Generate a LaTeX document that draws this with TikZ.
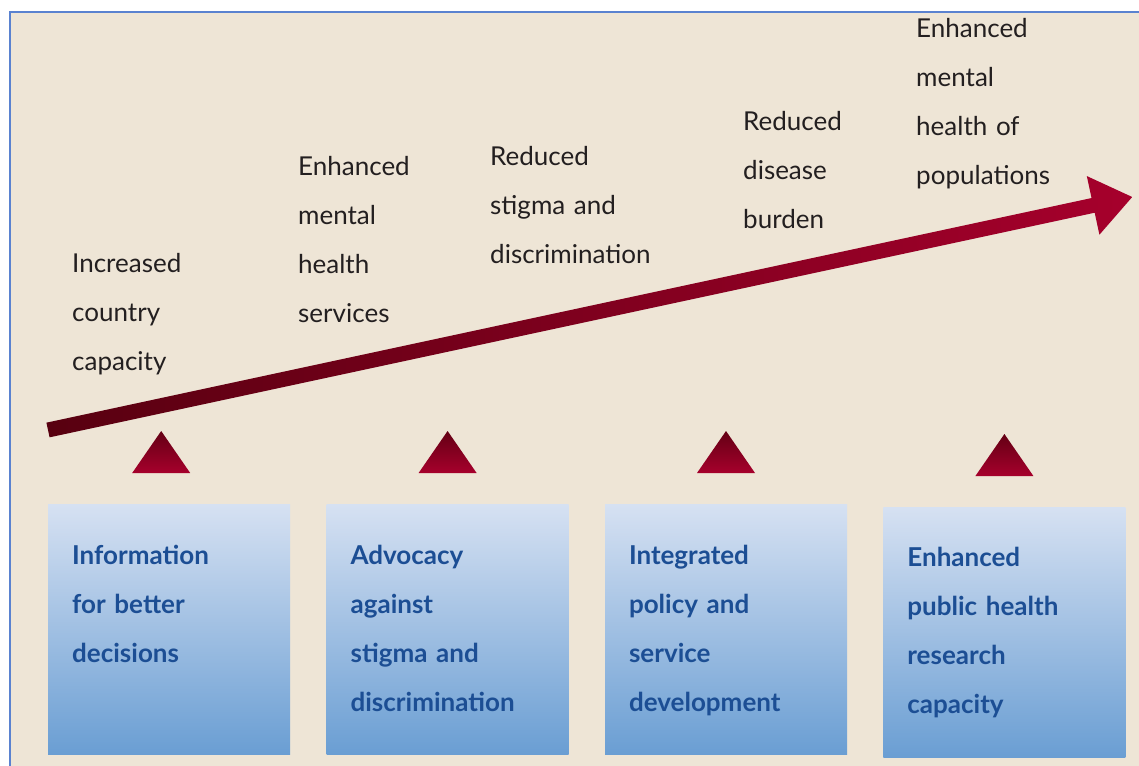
\documentclass[tikz,border=0pt]{standalone}
\usepackage{fontspec}
\setmainfont{Lato}
\usetikzlibrary{positioning,calc}

\definecolor{paper}{HTML}{EEE5D6}
\definecolor{frameblue}{HTML}{5A82D0}
\definecolor{wine}{HTML}{A6002C}
\definecolor{darkwine}{HTML}{580010}
\definecolor{boxtop}{HTML}{D6E1F2}
\definecolor{boxbot}{HTML}{6A9ED3}
\definecolor{boxtext}{HTML}{1C4E94}
\definecolor{ink}{HTML}{231F20}

\tikzset{
  goal/.style={anchor=base west, inner sep=0pt, text width=170pt, align=left,
    text=ink, font=\fontsize{26}{49}\selectfont},
  area/.style={rectangle, inner sep=0pt, minimum width=242pt, minimum height=250pt,
    top color=boxtop, bottom color=boxbot},
  areatext/.style={anchor=base west, inner sep=0pt, text width=210pt, align=left,
    text=boxtext, font=\fontsize{26}{49}\selectfont\bfseries},
  support/.style={top color=darkwine!85!wine, bottom color=wine}
}

\begin{document}
\begin{tikzpicture}[x=1pt,y=-1pt]
        \useasboundingbox (0,0) rectangle (1139,765);
        \clip (0,0) rectangle (1139,765);
        \fill[paper] (10,12) rectangle (1170,800);
        \draw[frameblue, line width=2.5pt] (10,12) rectangle (1170,800);

        % outcomes along the arrow
        \node[goal] (g1) at (72,272) {Increased\\country\\capacity};
        \node[goal] (g2) at (298,175) {Enhanced\\mental\\health\\services};
        \node[goal] (g3) at (490,165) {Reduced\\stigma and\\discrimination};
        \node[goal] (g4) at (743,130) {Reduced\\disease\\burden};
        \node[goal] (g5) at (916,38) {Enhanced\\mental\\health of\\populations};

        % rising arrow
        \coordinate (start) at (48,430);
        \coordinate (tip) at (1132,197);
        \begin{scope}[shift={(start)}, rotate=12.13]
          \shade[left color=darkwine, right color=wine]
            (0,-7.5) -- (1069,-7.5) -- (1069,-30) -- (1109,0)
            -- (1069,30) -- (1069,7.5) -- (0,7.5) -- cycle;
        \end{scope}

        % action areas
        \node[area, anchor=north west] (box1) at (48,504) {};
        \node[area, right=36pt of box1] (box2) {};
        \node[area, right=36pt of box2] (box3) {};
        \node[area, right=36pt of box3, yshift=-3pt] (box4) {};

        \node[areatext] (t1) at ($(box1.north west)+(24,60)$) {Information\\for better\\decisions};
        \node[areatext] (t2) at ($(box2.north west)+(24,60)$) {Advocacy\\against\\stigma and\\discrimination};
        \node[areatext] (t3) at ($(box3.north west)+(24,60)$) {Integrated\\policy and\\service\\development};
        \node[areatext] (t4) at ($(box4.north west)+(24,59)$) {Enhanced\\public health\\research\\capacity};

        \foreach \b/\dx in {box1/-8,box2/0,box3/0,box4/0}
          \shade[support] ($(\b.north)+(\dx-29,-31)$) -- ++(58,0) -- ++(-29,-42) -- cycle;
\end{tikzpicture}
\end{document}
